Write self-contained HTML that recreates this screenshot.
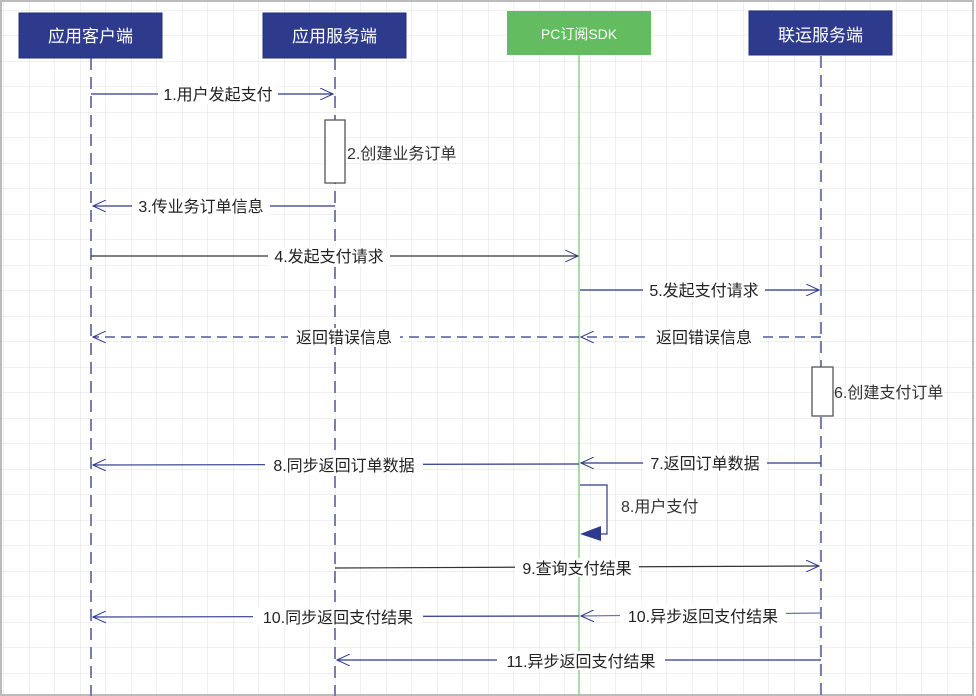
<!DOCTYPE html>
<html><head><meta charset="utf-8"><style>
html,body{margin:0;padding:0;background:#fff}
svg{display:block}
text{font-family:"Liberation Sans","Noto Sans CJK SC",sans-serif}
</style></head><body>
<svg width="976" height="696" viewBox="0 0 976 696" xmlns="http://www.w3.org/2000/svg">
<defs>
<pattern id="g" x="4" y="10.5" width="25.5" height="25.5" patternUnits="userSpaceOnUse">
<path d="M25.5 0V25.5M0 25.5H25.5" stroke="#e0e0e0" stroke-width="1" fill="none"/>
</pattern>
<marker id="oa" markerWidth="14" markerHeight="12" refX="13" refY="6" orient="auto" markerUnits="userSpaceOnUse">
<path d="M0 0L13 6L0 12" fill="none" stroke-width="1"/>
</marker>
</defs>
<rect width="976" height="696" fill="url(#g)"/>
<rect x="1" y="1" width="972" height="694" fill="none" stroke="#bbb" stroke-width="2"/>
<!-- lifelines -->
<g stroke="#7a80ad" stroke-width="2" stroke-dasharray="12,7">
<line x1="91" y1="58" x2="91" y2="696"/>
<line x1="335" y1="58" x2="335" y2="696"/>
<line x1="821" y1="56" x2="821" y2="696"/>
</g>
<line x1="579" y1="55" x2="579" y2="696" stroke="#8fd08a" stroke-width="1.5"/>
<!-- headers -->
<rect x="19" y="13" width="143" height="45" fill="#2e3a8c" stroke="#23307a"/>
<text x="90.5" y="42" fill="#fff" font-size="17" text-anchor="middle">应用客户端</text>
<rect x="263" y="13" width="143" height="45" fill="#2e3a8c" stroke="#23307a"/>
<text x="334.5" y="42" fill="#fff" font-size="17" text-anchor="middle">应用服务端</text>
<rect x="507" y="11" width="144" height="44" fill="#63bc60"/>
<text x="579" y="39" fill="#fff" font-size="14" text-anchor="middle">PC订阅SDK</text>
<rect x="749" y="11" width="143" height="44" fill="#2e3a8c" stroke="#23307a"/>
<text x="820.5" y="41" fill="#fff" font-size="17" text-anchor="middle">联运服务端</text>
<!-- activations -->
<rect x="325" y="120" width="20" height="63" fill="#fff" stroke="#555" stroke-width="1.3"/>
<rect x="812" y="367" width="21" height="49" fill="#fff" stroke="#555" stroke-width="1.3"/>
<g font-size="16" fill="#333">
<text x="347" y="159">2.创建业务订单</text>
<text x="834" y="398">6.创建支付订单</text>
<text x="621" y="512">8.用户支付</text>
</g>
<!-- messages -->
<g fill="none" stroke-width="1.2">
<line x1="91" y1="94" x2="333" y2="94" stroke="#2e3a8c" marker-end="url(#oa)"/>
<line x1="335" y1="206" x2="93" y2="206" stroke="#2e3a8c" marker-end="url(#oa)"/>
<line x1="91" y1="256" x2="578" y2="256" stroke="#333" marker-end="url(#oa)"/>
<line x1="580" y1="290" x2="819" y2="290" stroke="#2e3a8c" marker-end="url(#oa)"/>
<line x1="821" y1="337" x2="581" y2="337" stroke="#2e3a8c" stroke-dasharray="10,6" marker-end="url(#oa)"/>
<line x1="579" y1="337" x2="93" y2="337" stroke="#2e3a8c" stroke-dasharray="10,6" marker-end="url(#oa)"/>
<line x1="821" y1="463" x2="581" y2="463" stroke="#2e3a8c" marker-end="url(#oa)"/>
<line x1="579" y1="464" x2="93" y2="465" stroke="#2e3a8c" marker-end="url(#oa)"/>
<polyline points="580,485 607,485 607,534 598,534" stroke="#2e3a8c"/>
<line x1="335" y1="568" x2="819" y2="566" stroke="#333" marker-end="url(#oa)"/>
<line x1="821" y1="613" x2="581" y2="616" stroke="#6b72ad" marker-end="url(#oa)"/>
<line x1="579" y1="616" x2="93" y2="617" stroke="#2e3a8c" marker-end="url(#oa)"/>
<line x1="821" y1="660" x2="337" y2="660" stroke="#2e3a8c" marker-end="url(#oa)"/>
</g>
<g stroke="#2e3a8c"><use href="#x"/></g>
<polygon points="580,534 601,526 601,541" fill="#2e3a8c"/>
<style>#mk path{}</style>
<g font-size="16" fill="#222" text-anchor="middle">
<g fill="#fff">
<rect x="158" y="85" width="120" height="19"/>
<rect x="132" y="197" width="138" height="19"/>
<rect x="268" y="247" width="122" height="19"/>
<rect x="643" y="281" width="122" height="19"/>
<rect x="288" y="328" width="112" height="19"/>
<rect x="648" y="328" width="112" height="19"/>
<rect x="643" y="454" width="124" height="19"/>
<rect x="265" y="455" width="158" height="19"/>
<rect x="515" y="558" width="124" height="19"/>
<rect x="620" y="604" width="166" height="19"/>
<rect x="253" y="607" width="170" height="19"/>
<rect x="497" y="651" width="168" height="19"/>
</g>
<text x="218" y="100">1.用户发起支付</text>
<text x="201" y="212">3.传业务订单信息</text>
<text x="329" y="262">4.发起支付请求</text>
<text x="704" y="296">5.发起支付请求</text>
<text x="344" y="343">返回错误信息</text>
<text x="704" y="343">返回错误信息</text>
<text x="705" y="469">7.返回订单数据</text>
<text x="344" y="471">8.同步返回订单数据</text>
<text x="577" y="574">9.查询支付结果</text>
<text x="703" y="622">10.异步返回支付结果</text>
<text x="338" y="623">10.同步返回支付结果</text>
<text x="581" y="667">11.异步返回支付结果</text>
</g>
</svg>
<style>marker path{stroke:#2e3a8c}</style>
</body></html>
